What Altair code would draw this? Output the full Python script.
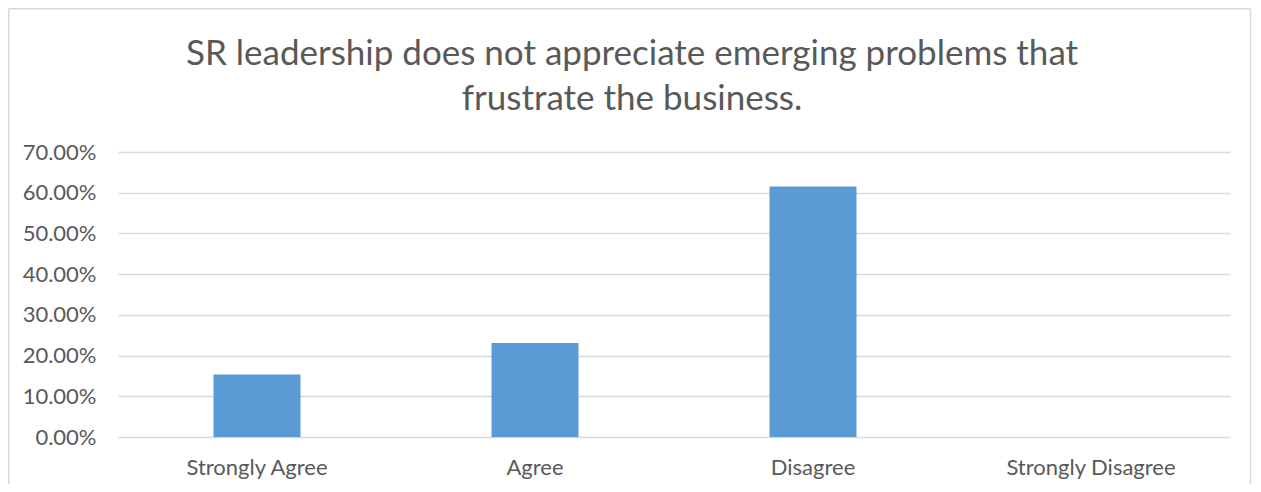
import altair as alt
import pandas as pd

categories = ["Strongly Agree", "Agree", "Disagree", "Strongly Disagree"]
shares = [0.1538, 0.2308, 0.6154, 0.0]
y_ticks = [0, 0.1, 0.2, 0.3, 0.4, 0.5, 0.6, 0.7]
title_lines = ["SR leadership does not appreciate emerging problems that",
               "frustrate the business."]

df = pd.DataFrame({"category": categories, "share": shares})

W, H = 1112, 285
PL, PT, PR, PB = 110, 144, 23, 47
FONT = "Lato"
TXT = "#595959"
GRID = "#D9D9D9"

bars = alt.Chart(df).mark_bar(color="#5B9BD5").encode(
    x=alt.X("category:N", sort=categories, title=None,
            scale=alt.Scale(paddingInner=0.687, paddingOuter=0.3435),
            axis=alt.Axis(labelAngle=0, labelFont=FONT, labelFontSize=22,
                          labelColor=TXT, labelPadding=20, ticks=False,
                          domain=False, grid=False, labelLimit=400)),
    y=alt.Y("share:Q", title=None,
            scale=alt.Scale(domain=[0, 0.7], nice=False),
            axis=alt.Axis(values=y_ticks, format=".2%", labelFont=FONT,
                          labelFontSize=22, labelColor=TXT, labelPadding=22,
                          ticks=False, domain=False, grid=True,
                          gridColor=GRID, gridWidth=1.5)),
)

frame_base = alt.Chart(alt.Data(values=[{}])).mark_rule(color=GRID, strokeWidth=1.5)
left = frame_base.encode(x=alt.value(-PL + 0.75), y=alt.value(-PT + 0.75), y2=alt.value(H + PB))
top = frame_base.encode(x=alt.value(-PL + 0.75), x2=alt.value(W + 20.5), y=alt.value(-PT + 0.75))
right = frame_base.encode(x=alt.value(W + 20.5), y=alt.value(-PT + 0.75), y2=alt.value(H + PB))

chart = alt.layer(bars, left, top, right).properties(
    width=W, height=H,
    padding={"left": PL, "top": PT, "right": PR, "bottom": PB},
    autosize=alt.AutoSizeParams(type="none"),
    background="white",
    title=alt.TitleParams(text=title_lines, font=FONT, fontSize=35,
                          fontWeight="normal", color=TXT, anchor="middle",
                          frame="group", dx=-42, lineHeight=45,
                          baseline="top", offset=-109),
).configure_view(stroke=None)

chart.save("out.html", embed_options={"renderer": "svg", "actions": False})
